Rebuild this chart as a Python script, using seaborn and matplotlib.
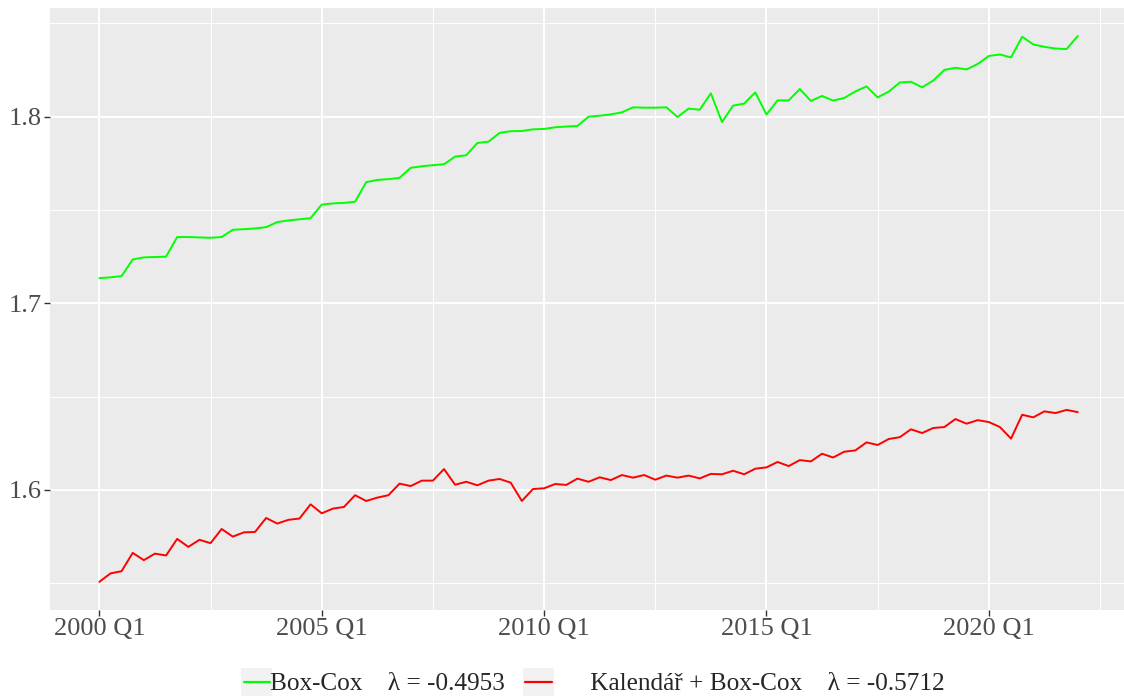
import numpy as np
import pandas as pd
import matplotlib
matplotlib.use("Agg")
import matplotlib.pyplot as plt
import seaborn as sns
from matplotlib.patches import Rectangle
from matplotlib.ticker import MultipleLocator, FixedLocator
from matplotlib.transforms import IdentityTransform

# quarterly series 2000 Q1 .. 2022 Q1
cas = 2000 + np.arange(89) / 4

box_cox = [
    1.7135, 1.7139, 1.7146, 1.7235, 1.7246, 1.7248, 1.7250, 1.7355, 1.7355, 1.7353,
    1.7351, 1.7355, 1.7394, 1.7397, 1.7401, 1.7408, 1.7435, 1.7444, 1.7450, 1.7456,
    1.7529, 1.7535, 1.7538, 1.7544, 1.7649, 1.7661, 1.7665, 1.7672, 1.7726, 1.7734,
    1.7740, 1.7745, 1.7786, 1.7793, 1.7859, 1.7866, 1.7913, 1.7922, 1.7923, 1.7932,
    1.7934, 1.7943, 1.7947, 1.7950, 1.8000, 1.8005, 1.8012, 1.8023, 1.8050, 1.8048,
    1.8048, 1.8050, 1.7998, 1.8043, 1.8037, 1.8125, 1.7971, 1.8059, 1.8070, 1.8130,
    1.8011, 1.8087, 1.8087, 1.8148, 1.8084, 1.8111, 1.8086, 1.8100, 1.8135, 1.8162,
    1.8103, 1.8134, 1.8183, 1.8187, 1.8157, 1.8193, 1.8250, 1.8262, 1.8253, 1.8282,
    1.8325, 1.8333, 1.8317, 1.8428, 1.8387, 1.8374, 1.8365, 1.8362, 1.8432,
]

kalendar_box_cox = [
    1.5508, 1.5553, 1.5565, 1.5663, 1.5624, 1.5659, 1.5649, 1.5738, 1.5695, 1.5733,
    1.5715, 1.5791, 1.5750, 1.5773, 1.5775, 1.5850, 1.5820, 1.5840, 1.5847, 1.5923,
    1.5875, 1.5900, 1.5909, 1.5972, 1.5941, 1.5959, 1.5972, 1.6034, 1.6021, 1.6050,
    1.6050, 1.6112, 1.6028, 1.6044, 1.6025, 1.6050, 1.6059, 1.6039, 1.5941, 1.6005,
    1.6009, 1.6032, 1.6027, 1.6061, 1.6044, 1.6068, 1.6053, 1.6080, 1.6066, 1.6080,
    1.6055, 1.6077, 1.6066, 1.6077, 1.6062, 1.6086, 1.6084, 1.6103, 1.6084, 1.6114,
    1.6121, 1.6150, 1.6128, 1.6160, 1.6153, 1.6194, 1.6174, 1.6205, 1.6212, 1.6255,
    1.6241, 1.6273, 1.6283, 1.6325, 1.6305, 1.6332, 1.6337, 1.6380, 1.6355, 1.6374,
    1.6364, 1.6337, 1.6275, 1.6403, 1.6389, 1.6421, 1.6412, 1.6429, 1.6417,
]

nazvy = ["Box-Cox    λ = -0.4953", "      Kalendář + Box-Cox    λ = -0.5712"]
barvy = {nazvy[0]: "#00FF00", nazvy[1]: "#FF0000"}

x_ticks = [2000, 2005, 2010, 2015, 2020]
x_labels = ["2000 Q1", "2005 Q1", "2010 Q1", "2015 Q1", "2020 Q1"]
y_ticks = [1.6, 1.7, 1.8]

df = pd.DataFrame({
    "cas": np.concatenate([cas, cas]),
    "hodnota": box_cox + kalendar_box_cox,
    "rada": [nazvy[0]] * len(cas) + [nazvy[1]] * len(cas),
})

sns.set_style("darkgrid", {"axes.facecolor": "#EBEBEB", "grid.color": "white"})
plt.rcParams["font.family"] = ["Liberation Serif", "DejaVu Serif"]

W, H = 1124, 697
fig = plt.figure(figsize=(W / 100, H / 100), dpi=100)
ax = fig.add_axes([50 / W, 1 - 610 / H, 1074 / W, 602 / H])

sns.lineplot(data=df, x="cas", y="hodnota", hue="rada", hue_order=nazvy,
             palette=barvy, linewidth=1.4, ax=ax)

ax.set_xlim(1998.89, 2023.04)
ax.set_ylim(1.5357, 1.8582)
ax.xaxis.set_major_locator(FixedLocator(x_ticks))
ax.set_xticklabels(x_labels)
ax.xaxis.set_minor_locator(MultipleLocator(2.5))
ax.yaxis.set_major_locator(FixedLocator(y_ticks))
ax.set_yticklabels([f"{v:.1f}" for v in y_ticks])
ax.yaxis.set_minor_locator(MultipleLocator(0.05))

ax.grid(which="major", color="white", linewidth=1.4)
ax.grid(which="minor", color="white", linewidth=0.7)
ax.tick_params(which="major", length=4, width=1, color="#333333",
               labelsize=19, labelcolor="#4D4D4D", pad=2, bottom=True, left=True)
ax.tick_params(which="minor", length=0)
for s in ax.spines.values():
    s.set_visible(False)
ax.set_xlabel("")
ax.set_ylabel("")

handles, labels = ax.get_legend_handles_labels()
leg = ax.legend(handles, labels, loc="center", ncol=2, frameon=False,
                bbox_to_anchor=(594 / W, 1 - 684 / H), bbox_transform=fig.transFigure,
                handlelength=1.05, handletextpad=0.0, columnspacing=0.8,
                prop={"family": "Liberation Serif", "size": 18.2})
for h in leg.legend_handles:
    h.set_linewidth(1.6)

# grey key backgrounds behind the legend lines
fig.canvas.draw()
renderer = fig.canvas.get_renderer()
for h in leg.legend_handles:
    bb = h.get_window_extent(renderer)
    cx, cy = (bb.x0 + bb.x1) / 2, (bb.y0 + bb.y1) / 2
    fig.patches.append(Rectangle((cx - 15.5, cy - 14), 31, 28, facecolor="#F2F2F2",
                                 edgecolor="none", transform=IdentityTransform(),
                                 zorder=-1))

fig.savefig("out.png", dpi=100)
plt.close(fig)
